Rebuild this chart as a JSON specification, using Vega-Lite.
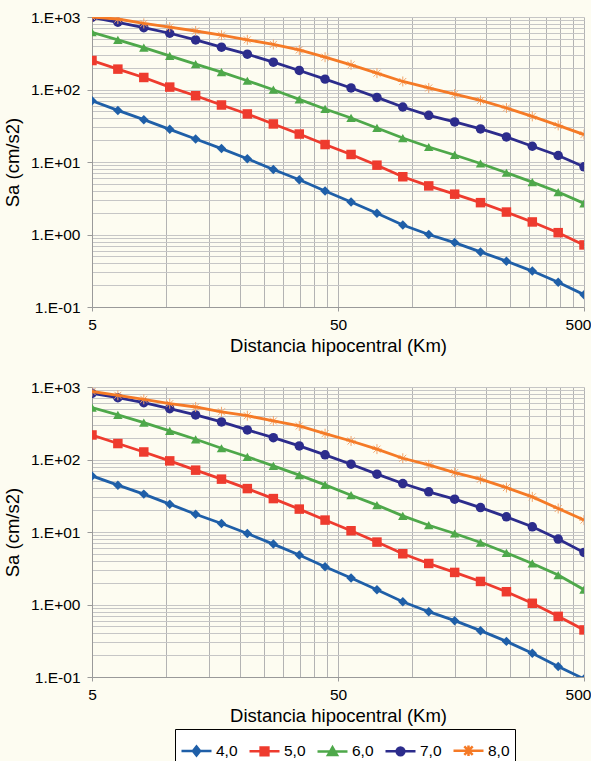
{
"$schema": "https://vega.github.io/schema/vega-lite/v6.json",
"background": "#fdfcf1",
"padding": {"left": 3, "top": 10, "right": 0, "bottom": 0},
"spacing": 25,
"config": {
  "font": "Liberation Sans",
  "view": {"stroke": null, "fill": "#fdfcf1"}
},
"datasets": {"sa": [
{"P":1,"M":"4,0","R":5,"Sa":70},{"P":1,"M":"4,0","R":6.37,"Sa":51.5},{"P":1,"M":"4,0","R":8.12,"Sa":38.4},{"P":1,"M":"4,0","R":10.35,"Sa":28.2},{"P":1,"M":"4,0","R":13.19,"Sa":20.8},{"P":1,"M":"4,0","R":16.8,"Sa":15.3},{"P":1,"M":"4,0","R":21.4,"Sa":11.1},{"P":1,"M":"4,0","R":27.3,"Sa":7.9},{"P":1,"M":"4,0","R":34.8,"Sa":5.7},{"P":1,"M":"4,0","R":44.3,"Sa":3.97},{"P":1,"M":"4,0","R":56.5,"Sa":2.8},{"P":1,"M":"4,0","R":72,"Sa":1.96},{"P":1,"M":"4,0","R":91.7,"Sa":1.35},{"P":1,"M":"4,0","R":116.9,"Sa":1.0},{"P":1,"M":"4,0","R":149,"Sa":0.774},{"P":1,"M":"4,0","R":189.8,"Sa":0.575},{"P":1,"M":"4,0","R":241.9,"Sa":0.429},{"P":1,"M":"4,0","R":308.2,"Sa":0.313},{"P":1,"M":"4,0","R":392.7,"Sa":0.219},{"P":1,"M":"4,0","R":500,"Sa":0.148},
{"P":1,"M":"5,0","R":5,"Sa":251},{"P":1,"M":"5,0","R":6.37,"Sa":191},{"P":1,"M":"5,0","R":8.12,"Sa":146.5},{"P":1,"M":"5,0","R":10.35,"Sa":108},{"P":1,"M":"5,0","R":13.19,"Sa":82},{"P":1,"M":"5,0","R":16.8,"Sa":61.1},{"P":1,"M":"5,0","R":21.4,"Sa":46},{"P":1,"M":"5,0","R":27.3,"Sa":33.5},{"P":1,"M":"5,0","R":34.8,"Sa":24.3},{"P":1,"M":"5,0","R":44.3,"Sa":17.4},{"P":1,"M":"5,0","R":56.5,"Sa":12.7},{"P":1,"M":"5,0","R":72,"Sa":9.04},{"P":1,"M":"5,0","R":91.7,"Sa":6.26},{"P":1,"M":"5,0","R":116.9,"Sa":4.68},{"P":1,"M":"5,0","R":149,"Sa":3.6},{"P":1,"M":"5,0","R":189.8,"Sa":2.75},{"P":1,"M":"5,0","R":241.9,"Sa":2.04},{"P":1,"M":"5,0","R":308.2,"Sa":1.49},{"P":1,"M":"5,0","R":392.7,"Sa":1.06},{"P":1,"M":"5,0","R":500,"Sa":0.718},
{"P":1,"M":"6,0","R":5,"Sa":616},{"P":1,"M":"6,0","R":6.37,"Sa":483},{"P":1,"M":"6,0","R":8.12,"Sa":378},{"P":1,"M":"6,0","R":10.35,"Sa":291},{"P":1,"M":"6,0","R":13.19,"Sa":224},{"P":1,"M":"6,0","R":16.8,"Sa":174},{"P":1,"M":"6,0","R":21.4,"Sa":132},{"P":1,"M":"6,0","R":27.3,"Sa":99.3},{"P":1,"M":"6,0","R":34.8,"Sa":73.2},{"P":1,"M":"6,0","R":44.3,"Sa":53.9},{"P":1,"M":"6,0","R":56.5,"Sa":40.5},{"P":1,"M":"6,0","R":72,"Sa":29.5},{"P":1,"M":"6,0","R":91.7,"Sa":21.4},{"P":1,"M":"6,0","R":116.9,"Sa":16.1},{"P":1,"M":"6,0","R":149,"Sa":12.5},{"P":1,"M":"6,0","R":189.8,"Sa":9.53},{"P":1,"M":"6,0","R":241.9,"Sa":7.11},{"P":1,"M":"6,0","R":308.2,"Sa":5.28},{"P":1,"M":"6,0","R":392.7,"Sa":3.85},{"P":1,"M":"6,0","R":500,"Sa":2.69},
{"P":1,"M":"7,0","R":5,"Sa":990},{"P":1,"M":"7,0","R":6.37,"Sa":846},{"P":1,"M":"7,0","R":8.12,"Sa":713},{"P":1,"M":"7,0","R":10.35,"Sa":597},{"P":1,"M":"7,0","R":13.19,"Sa":483},{"P":1,"M":"7,0","R":16.8,"Sa":383},{"P":1,"M":"7,0","R":21.4,"Sa":307},{"P":1,"M":"7,0","R":27.3,"Sa":238},{"P":1,"M":"7,0","R":34.8,"Sa":183},{"P":1,"M":"7,0","R":44.3,"Sa":139},{"P":1,"M":"7,0","R":56.5,"Sa":105},{"P":1,"M":"7,0","R":72,"Sa":77.8},{"P":1,"M":"7,0","R":91.7,"Sa":57.4},{"P":1,"M":"7,0","R":116.9,"Sa":44.0},{"P":1,"M":"7,0","R":149,"Sa":35.7},{"P":1,"M":"7,0","R":189.8,"Sa":28.6},{"P":1,"M":"7,0","R":241.9,"Sa":22.2},{"P":1,"M":"7,0","R":308.2,"Sa":16.5},{"P":1,"M":"7,0","R":392.7,"Sa":12.3},{"P":1,"M":"7,0","R":500,"Sa":8.59},
{"P":1,"M":"8,0","R":5,"Sa":1000},{"P":1,"M":"8,0","R":6.37,"Sa":938},{"P":1,"M":"8,0","R":8.12,"Sa":816},{"P":1,"M":"8,0","R":10.35,"Sa":724},{"P":1,"M":"8,0","R":13.19,"Sa":641},{"P":1,"M":"8,0","R":16.8,"Sa":561},{"P":1,"M":"8,0","R":21.4,"Sa":484},{"P":1,"M":"8,0","R":27.3,"Sa":418},{"P":1,"M":"8,0","R":34.8,"Sa":351},{"P":1,"M":"8,0","R":44.3,"Sa":279},{"P":1,"M":"8,0","R":56.5,"Sa":219},{"P":1,"M":"8,0","R":72,"Sa":168},{"P":1,"M":"8,0","R":91.7,"Sa":129},{"P":1,"M":"8,0","R":116.9,"Sa":105},{"P":1,"M":"8,0","R":149,"Sa":86.5},{"P":1,"M":"8,0","R":189.8,"Sa":70.7},{"P":1,"M":"8,0","R":241.9,"Sa":55.6},{"P":1,"M":"8,0","R":308.2,"Sa":42.6},{"P":1,"M":"8,0","R":392.7,"Sa":32.0},{"P":1,"M":"8,0","R":500,"Sa":23.9},
{"P":2,"M":"4,0","R":5,"Sa":59.4},{"P":2,"M":"4,0","R":6.37,"Sa":44.3},{"P":2,"M":"4,0","R":8.12,"Sa":33.3},{"P":2,"M":"4,0","R":10.35,"Sa":24.2},{"P":2,"M":"4,0","R":13.19,"Sa":17.6},{"P":2,"M":"4,0","R":16.8,"Sa":13.1},{"P":2,"M":"4,0","R":21.4,"Sa":9.53},{"P":2,"M":"4,0","R":27.3,"Sa":6.81},{"P":2,"M":"4,0","R":34.8,"Sa":4.82},{"P":2,"M":"4,0","R":44.3,"Sa":3.32},{"P":2,"M":"4,0","R":56.5,"Sa":2.32},{"P":2,"M":"4,0","R":72,"Sa":1.6},{"P":2,"M":"4,0","R":91.7,"Sa":1.09},{"P":2,"M":"4,0","R":116.9,"Sa":0.796},{"P":2,"M":"4,0","R":149,"Sa":0.598},{"P":2,"M":"4,0","R":189.8,"Sa":0.436},{"P":2,"M":"4,0","R":241.9,"Sa":0.31},{"P":2,"M":"4,0","R":308.2,"Sa":0.212},{"P":2,"M":"4,0","R":392.7,"Sa":0.14},{"P":2,"M":"4,0","R":500,"Sa":0.094},
{"P":2,"M":"5,0","R":5,"Sa":218},{"P":2,"M":"5,0","R":6.37,"Sa":166},{"P":2,"M":"5,0","R":8.12,"Sa":127},{"P":2,"M":"5,0","R":10.35,"Sa":95.7},{"P":2,"M":"5,0","R":13.19,"Sa":71.3},{"P":2,"M":"5,0","R":16.8,"Sa":53.6},{"P":2,"M":"5,0","R":21.4,"Sa":39.7},{"P":2,"M":"5,0","R":27.3,"Sa":28.9},{"P":2,"M":"5,0","R":34.8,"Sa":20.7},{"P":2,"M":"5,0","R":44.3,"Sa":14.6},{"P":2,"M":"5,0","R":56.5,"Sa":10.4},{"P":2,"M":"5,0","R":72,"Sa":7.26},{"P":2,"M":"5,0","R":91.7,"Sa":5.01},{"P":2,"M":"5,0","R":116.9,"Sa":3.68},{"P":2,"M":"5,0","R":149,"Sa":2.77},{"P":2,"M":"5,0","R":189.8,"Sa":2.08},{"P":2,"M":"5,0","R":241.9,"Sa":1.5},{"P":2,"M":"5,0","R":308.2,"Sa":1.04},{"P":2,"M":"5,0","R":392.7,"Sa":0.686},{"P":2,"M":"5,0","R":500,"Sa":0.446},
{"P":2,"M":"6,0","R":5,"Sa":519},{"P":2,"M":"6,0","R":6.37,"Sa":412},{"P":2,"M":"6,0","R":8.12,"Sa":322},{"P":2,"M":"6,0","R":10.35,"Sa":248},{"P":2,"M":"6,0","R":13.19,"Sa":190},{"P":2,"M":"6,0","R":16.8,"Sa":143},{"P":2,"M":"6,0","R":21.4,"Sa":109},{"P":2,"M":"6,0","R":27.3,"Sa":81.6},{"P":2,"M":"6,0","R":34.8,"Sa":60.8},{"P":2,"M":"6,0","R":44.3,"Sa":44.7},{"P":2,"M":"6,0","R":56.5,"Sa":32.2},{"P":2,"M":"6,0","R":72,"Sa":23.5},{"P":2,"M":"6,0","R":91.7,"Sa":16.7},{"P":2,"M":"6,0","R":116.9,"Sa":12.4},{"P":2,"M":"6,0","R":149,"Sa":9.53},{"P":2,"M":"6,0","R":189.8,"Sa":7.16},{"P":2,"M":"6,0","R":241.9,"Sa":5.17},{"P":2,"M":"6,0","R":308.2,"Sa":3.68},{"P":2,"M":"6,0","R":392.7,"Sa":2.55},{"P":2,"M":"6,0","R":500,"Sa":1.6},
{"P":2,"M":"7,0","R":5,"Sa":819},{"P":2,"M":"7,0","R":6.37,"Sa":712},{"P":2,"M":"7,0","R":8.12,"Sa":608},{"P":2,"M":"7,0","R":10.35,"Sa":503},{"P":2,"M":"7,0","R":13.19,"Sa":412},{"P":2,"M":"7,0","R":16.8,"Sa":330},{"P":2,"M":"7,0","R":21.4,"Sa":256},{"P":2,"M":"7,0","R":27.3,"Sa":200},{"P":2,"M":"7,0","R":34.8,"Sa":154},{"P":2,"M":"7,0","R":44.3,"Sa":116},{"P":2,"M":"7,0","R":56.5,"Sa":86.1},{"P":2,"M":"7,0","R":72,"Sa":62.8},{"P":2,"M":"7,0","R":91.7,"Sa":46.6},{"P":2,"M":"7,0","R":116.9,"Sa":35.8},{"P":2,"M":"7,0","R":149,"Sa":28.4},{"P":2,"M":"7,0","R":189.8,"Sa":21.7},{"P":2,"M":"7,0","R":241.9,"Sa":16.2},{"P":2,"M":"7,0","R":308.2,"Sa":11.8},{"P":2,"M":"7,0","R":392.7,"Sa":7.98},{"P":2,"M":"7,0","R":500,"Sa":5.22},
{"P":2,"M":"8,0","R":5,"Sa":867},{"P":2,"M":"8,0","R":6.37,"Sa":769},{"P":2,"M":"8,0","R":8.12,"Sa":677},{"P":2,"M":"8,0","R":10.35,"Sa":589},{"P":2,"M":"8,0","R":13.19,"Sa":530},{"P":2,"M":"8,0","R":16.8,"Sa":455},{"P":2,"M":"8,0","R":21.4,"Sa":402},{"P":2,"M":"8,0","R":27.3,"Sa":340},{"P":2,"M":"8,0","R":34.8,"Sa":290},{"P":2,"M":"8,0","R":44.3,"Sa":227},{"P":2,"M":"8,0","R":56.5,"Sa":180},{"P":2,"M":"8,0","R":72,"Sa":139},{"P":2,"M":"8,0","R":91.7,"Sa":104},{"P":2,"M":"8,0","R":116.9,"Sa":84.3},{"P":2,"M":"8,0","R":149,"Sa":66},{"P":2,"M":"8,0","R":189.8,"Sa":53.5},{"P":2,"M":"8,0","R":241.9,"Sa":41},{"P":2,"M":"8,0","R":308.2,"Sa":30.5},{"P":2,"M":"8,0","R":392.7,"Sa":21.1},{"P":2,"M":"8,0","R":500,"Sa":14.6}
]},
"vconcat": [
{
  "width": 492, "height": 290,
  "data": {"name": "sa"},
  "transform": [{"filter": "datum.P == 1"}],
  "encoding": {
    "x": {"field": "R", "type": "quantitative",
      "scale": {"type": "log", "domain": [5, 500], "nice": false},
      "axis": {"title": "Distancia hipocentral (Km)", "values": [5,10,15,20,25,30,35,40,45,50,100,150,200,250,300,350,400,450,500],
        "labelExpr": "(datum.value == 5 || datum.value == 50 || datum.value == 500) ? datum.value + '' : ''",
        "labelOverlap": false, "labelFlush": false, "tickSize": 4,
        "labelOffset": {"condition": {"test": "datum.value == 500", "value": -6}, "value": 0},
        "tickOpacity": {"condition": {"test": "datum.value == 5 || datum.value == 50 || datum.value == 500", "value": 1}, "value": 0},
        "labelPadding": 6, "grid": true, "gridColor": "#b3b3b3", "gridWidth": 1,
        "domainColor": "#9a9a9a", "tickColor": "#9a9a9a", "labelFontSize": 15.5, "labelColor": "#000000",
        "titleFontSize": 18.5, "titleFontWeight": "normal", "titleColor": "#000000", "titlePadding": 4}},
    "y": {"field": "Sa", "type": "quantitative",
      "scale": {"type": "log", "domain": [0.1, 1000], "nice": false},
      "axis": {"title": "Sa (cm/s2)", "values": [0.1,0.2,0.3,0.4,0.5,0.6,0.7,0.8,0.9,1,2,3,4,5,6,7,8,9,10,20,30,40,50,60,70,80,90,100,200,300,400,500,600,700,800,900,1000],
        "labelExpr": "abs(log(datum.value)/LN10 - round(log(datum.value)/LN10)) < 0.001 ? '1.E' + (datum.value >= 0.99 ? '+' : '-') + '0' + abs(round(log(datum.value)/LN10)) : ''",
        "labelOverlap": false, "labelFlush": false, "tickSize": 5,
        "tickOpacity": {"condition": {"test": "abs(log(datum.value)/LN10 - round(log(datum.value)/LN10)) < 0.001", "value": 1}, "value": 0},
        "labelPadding": 7, "grid": true, "gridColor": "#c6c6c6", "gridWidth": 1,
        "domainColor": "#9a9a9a", "tickColor": "#9a9a9a", "labelFontSize": 15.5, "labelColor": "#000000",
        "titleFontSize": 18.5, "titleFontWeight": "normal", "titleColor": "#000000", "titlePadding": 8}},
    "color": {"field": "M", "type": "nominal",
      "scale": {"domain": ["4,0","5,0","6,0","7,0","8,0"], "range": ["#1f5fa8","#ee3b2e","#4ea84a","#2c2c8c","#f57a26"]},
      "legend": null}
  },
  "layer": [
    {"transform": [{"filter": "datum.M != '8,0'"}], "mark": {"type": "line", "strokeWidth": 2.8, "clip": true}},
    {"transform": [{"filter": "datum.M != '8,0'"}], "mark": {"type": "point", "filled": true, "size": 90, "opacity": 1, "clip": true},
     "encoding": {"shape": {"field": "M", "type": "nominal", "scale": {"domain": ["4,0","5,0","6,0","7,0"], "range": ["diamond","square","triangle-up","circle"]}, "legend": null}}},
    {"transform": [{"filter": "datum.M == '8,0'"}], "mark": {"type": "point", "shape": "M-1,0L1,0M0,-1L0,1M-0.7,-0.7L0.7,0.7M-0.7,0.7L0.7,-0.7", "filled": false, "size": 100, "strokeWidth": 1, "opacity": 1, "clip": true},
     "encoding": {"color": {"value": "#f2a56c"}}},
    {"transform": [{"filter": "datum.M == '8,0'"}], "mark": {"type": "line", "strokeWidth": 2.8, "clip": true}}
  ]
},
{
  "width": 492, "height": 290,
  "data": {"name": "sa"},
  "transform": [{"filter": "datum.P == 2"}],
  "resolve": {"scale": {"shape": "independent", "fill": "independent", "stroke": "independent"}, "legend": {"shape": "independent", "fill": "independent", "stroke": "independent"}},
  "encoding": {
    "x": {"field": "R", "type": "quantitative",
      "scale": {"type": "log", "domain": [5, 500], "nice": false},
      "axis": {"title": "Distancia hipocentral (Km)", "values": [5,10,15,20,25,30,35,40,45,50,100,150,200,250,300,350,400,450,500],
        "labelExpr": "(datum.value == 5 || datum.value == 50 || datum.value == 500) ? datum.value + '' : ''",
        "labelOverlap": false, "labelFlush": false, "tickSize": 4,
        "labelOffset": {"condition": {"test": "datum.value == 500", "value": -6}, "value": 0},
        "tickOpacity": {"condition": {"test": "datum.value == 5 || datum.value == 50 || datum.value == 500", "value": 1}, "value": 0},
        "labelPadding": 6, "grid": true, "gridColor": "#b3b3b3", "gridWidth": 1,
        "domainColor": "#9a9a9a", "tickColor": "#9a9a9a", "labelFontSize": 15.5, "labelColor": "#000000",
        "titleFontSize": 18.5, "titleFontWeight": "normal", "titleColor": "#000000", "titlePadding": 4}},
    "y": {"field": "Sa", "type": "quantitative",
      "scale": {"type": "log", "domain": [0.1, 1000], "nice": false},
      "axis": {"title": "Sa (cm/s2)", "values": [0.1,0.2,0.3,0.4,0.5,0.6,0.7,0.8,0.9,1,2,3,4,5,6,7,8,9,10,20,30,40,50,60,70,80,90,100,200,300,400,500,600,700,800,900,1000],
        "labelExpr": "abs(log(datum.value)/LN10 - round(log(datum.value)/LN10)) < 0.001 ? '1.E' + (datum.value >= 0.99 ? '+' : '-') + '0' + abs(round(log(datum.value)/LN10)) : ''",
        "labelOverlap": false, "labelFlush": false, "tickSize": 5,
        "tickOpacity": {"condition": {"test": "abs(log(datum.value)/LN10 - round(log(datum.value)/LN10)) < 0.001", "value": 1}, "value": 0},
        "labelPadding": 7, "grid": true, "gridColor": "#c6c6c6", "gridWidth": 1,
        "domainColor": "#9a9a9a", "tickColor": "#9a9a9a", "labelFontSize": 15.5, "labelColor": "#000000",
        "titleFontSize": 18.5, "titleFontWeight": "normal", "titleColor": "#000000", "titlePadding": 8}},
    "color": {"field": "M", "type": "nominal",
      "scale": {"domain": ["4,0","5,0","6,0","7,0","8,0"], "range": ["#1f5fa8","#ee3b2e","#4ea84a","#2c2c8c","#f57a26"]},
      "legend": null}
  },
  "layer": [
    {"transform": [{"filter": "datum.M != '8,0'"}], "mark": {"type": "line", "strokeWidth": 2.8, "clip": true}},
    {"transform": [{"filter": "datum.M != '8,0'"}], "mark": {"type": "point", "filled": true, "size": 90, "opacity": 1, "clip": true},
     "encoding": {"shape": {"field": "M", "type": "nominal", "scale": {"domain": ["4,0","5,0","6,0","7,0"], "range": ["diamond","square","triangle-up","circle"]}, "legend": null}}},
    {"transform": [{"filter": "datum.M == '8,0'"}], "mark": {"type": "point", "shape": "M-1,0L1,0M0,-1L0,1M-0.7,-0.7L0.7,0.7M-0.7,0.7L0.7,-0.7", "filled": false, "size": 100, "strokeWidth": 1, "opacity": 1, "clip": true},
     "encoding": {"color": {"value": "#f2a56c"}}},
    {"transform": [{"filter": "datum.M == '8,0'"}], "mark": {"type": "line", "strokeWidth": 2.8, "clip": true}},
    {"transform": [{"filter": "false"}], "mark": {"type": "point", "filled": true, "strokeWidth": 2.5, "opacity": 1},
     "encoding": {
       "shape": {"field": "M", "type": "nominal", "scale": {"domain": ["4,0","5,0","6,0","7,0","8,0"], "range": [
         "M-1,0L1,0M-0.24,0L0,-0.3L0.24,0L0,0.3Z",
         "M-1,0L1,0M-0.26,-0.26L0.26,-0.26L0.26,0.26L-0.26,0.26Z",
         "M-1,0L1,0M-0.3,0.24L0,-0.28L0.3,0.24Z",
         "M-1,0L1,0M-0.26,0A0.26,0.26,0,1,0,0.26,0A0.26,0.26,0,1,0,-0.26,0Z",
         "M-1,0L1,0M-0.28,-0.28L0.28,0.28M-0.28,0.28L0.28,-0.28M0,-0.35L0,0.35"]},
         "legend": {"title": null, "orient": "none", "legendX": 83, "legendY": 342, "direction": "horizontal", "columns": 5, "symbolSize": 900, "symbolStrokeWidth": 2.5, "labelFontSize": 15.5, "labelColor": "#000000", "labelOffset": 3, "columnPadding": 6, "padding": 5, "strokeColor": "#000000", "fillColor": "#ffffff"}},
       "fill": {"field": "M", "type": "nominal", "scale": {"domain": ["4,0","5,0","6,0","7,0","8,0"], "range": ["#1f5fa8","#ee3b2e","#4ea84a","#2c2c8c","#f57a26"]},
         "legend": {"title": null, "orient": "none", "legendX": 83, "legendY": 342, "direction": "horizontal", "columns": 5, "symbolSize": 900, "symbolStrokeWidth": 2.5, "labelFontSize": 15.5, "labelColor": "#000000", "labelOffset": 3, "columnPadding": 6, "padding": 5, "strokeColor": "#000000", "fillColor": "#ffffff"}},
       "stroke": {"field": "M", "type": "nominal", "scale": {"domain": ["4,0","5,0","6,0","7,0","8,0"], "range": ["#1f5fa8","#ee3b2e","#4ea84a","#2c2c8c","#f57a26"]},
         "legend": {"title": null, "orient": "none", "legendX": 83, "legendY": 342, "direction": "horizontal", "columns": 5, "symbolSize": 900, "symbolStrokeWidth": 2.5, "labelFontSize": 15.5, "labelColor": "#000000", "labelOffset": 3, "columnPadding": 6, "padding": 5, "strokeColor": "#000000", "fillColor": "#ffffff"}}
     }}
  ]
}
]
}
